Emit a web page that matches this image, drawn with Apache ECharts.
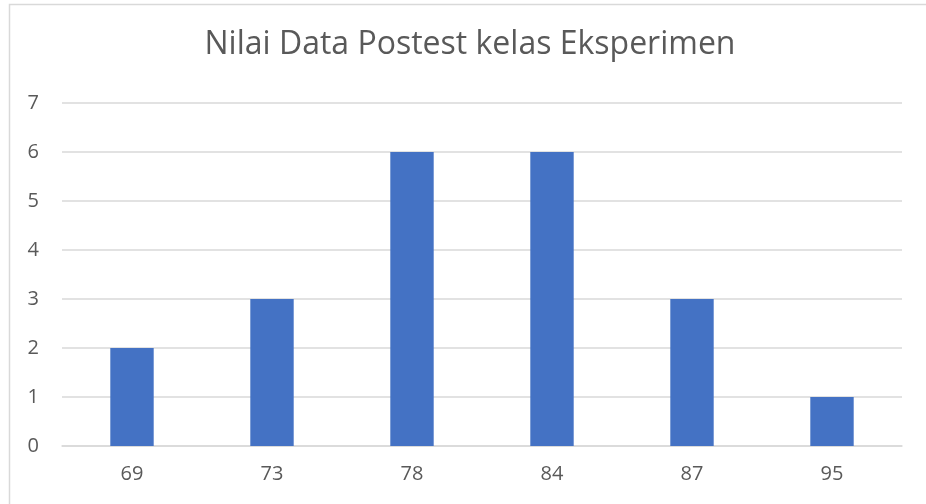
<!DOCTYPE html>
<html>
<head>
<meta charset="utf-8">
<script src="https://cdn.jsdelivr.net/npm/echarts@6/dist/echarts.min.js"></script>
<style>
  html, body { margin: 0; padding: 0; background: #fff; }
  #chart { width: 926px; height: 504px; }
</style>
</head>
<body>
<div id="chart"></div>
<script>
const categories = ['69', '73', '78', '84', '87', '95']
const counts = [2, 3, 6, 6, 3, 1]
const titleText = 'Nilai Data Postest kelas Eksperimen'

const chart = echarts.init(document.getElementById('chart'))
chart.setOption({
  backgroundColor: '#fff',
  animation: false,
  // chart frame (cut off on right and bottom like the screenshot)
  graphic: [{
    type: 'rect',
    shape: { x: 9.5, y: 4.5, width: 940, height: 520 },
    style: { fill: 'none', stroke: '#d9d9d9', lineWidth: 1.5 },
  }],
  title: {
    text: titleText,
    left: 465,
    textAlign: 'center',
    top: 24,
    textStyle: {
      color: '#595959',
      fontFamily: 'Open Sans',
      fontWeight: 'normal',
      fontSize: 32,
    },
  },
  grid: {
    left: 62,
    right: 24,
    top: 103,
    bottom: 58,
  },
  xAxis: {
    type: 'category',
    data: categories,
    axisLine: { lineStyle: { color: '#d9d9d9', width: 1.5 } },
    axisTick: { show: false },
    axisLabel: {
      color: '#595959',
      fontSize: 20,
      fontFamily: 'Open Sans',
      margin: 18,
    },
  },
  yAxis: {
    type: 'value',
    min: 0,
    max: 7,
    interval: 1,
    axisLine: { show: false },
    axisTick: { show: false },
    splitLine: { lineStyle: { color: '#d9d9d9', width: 1.5 } },
    axisLabel: {
      color: '#595959',
      fontSize: 20,
      fontFamily: 'Open Sans',
      margin: 23,
    },
  },
  series: [{
    type: 'bar',
    data: counts,
    barWidth: '31%',
    itemStyle: { color: '#4472c4' },
  }],
})
</script>
</body>
</html>
